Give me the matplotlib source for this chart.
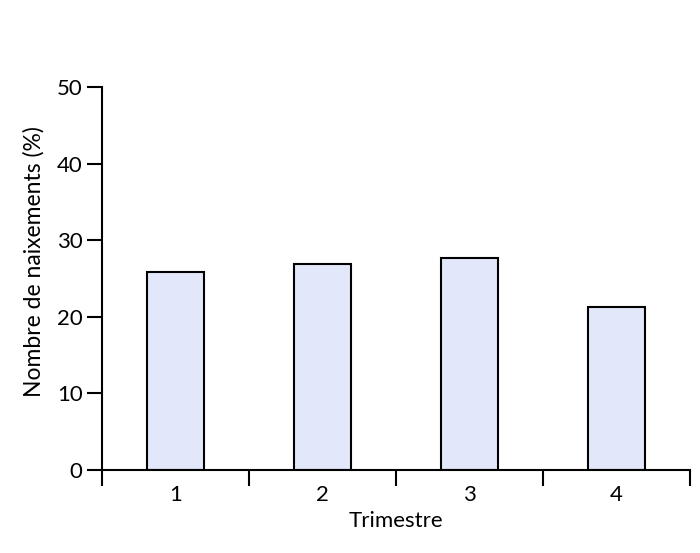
import matplotlib.pyplot as plt
import numpy as np

plt.rcParams['font.family'] = ['Lato', 'DejaVu Sans']

trimestres = ['1', '2', '3', '4']
naixements = [25.8, 26.9, 27.7, 21.3]

fig = plt.figure(figsize=(7, 5.53), dpi=100)
ax = fig.add_axes([0.1457, 0.150, 0.84, 0.6927])

x = np.arange(1, len(trimestres) + 1)
ax.bar(x, naixements, width=0.39, color='#e2e8fa', edgecolor='black', linewidth=1.5, zorder=2)

ax.set_xlim(0.5, len(trimestres) + 0.5)
ax.set_ylim(0, 50)
ax.set_yticks(np.arange(0, 51, 10))

# ticks at category boundaries, labels at centres
ax.set_xticks(np.arange(0.5, len(trimestres) + 1, 1))
ax.set_xticklabels([])
ax.set_xticks(x, minor=True)
ax.set_xticklabels(trimestres, minor=True)
ax.tick_params(axis='x', which='major', direction='out', length=11.5, width=1.5)
ax.tick_params(axis='x', which='minor', length=0, pad=11, labelsize=16)
ax.tick_params(axis='y', direction='out', length=11, width=1.5, labelsize=16, pad=3)

for s in ['top', 'right']:
    ax.spines[s].set_visible(False)
for s in ['left', 'bottom']:
    ax.spines[s].set_linewidth(1.5)

ax.set_xlabel('Trimestre', fontsize=16, labelpad=4)
ax.set_ylabel('Nombre de naixements (%)', fontsize=16.5)
ax.yaxis.set_label_coords(-0.098, 0.543)

fig.savefig('out.png', dpi=100)
